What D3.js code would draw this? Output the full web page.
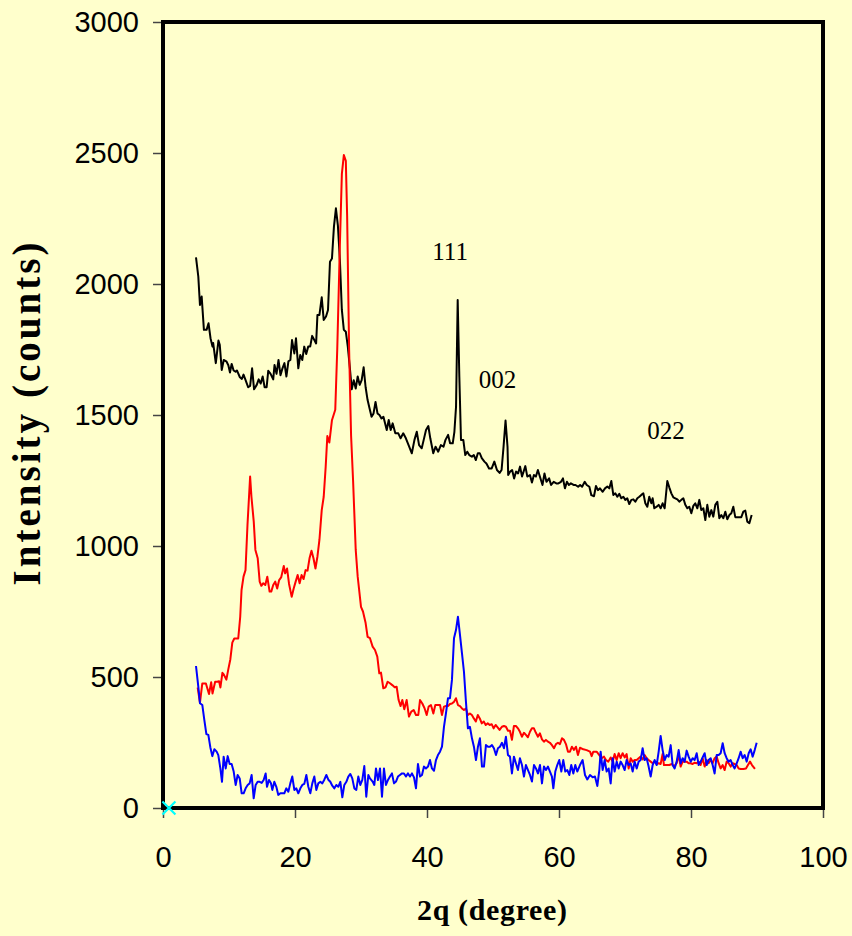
<!DOCTYPE html>
<html><head><meta charset="utf-8">
<script src="https://cdn.jsdelivr.net/npm/d3@7"></script>
<style>html,body{margin:0;padding:0;background:#FFFFCC;} svg{display:block}</style>
</head><body><svg id="c" width="852" height="936"></svg>
<script>
const xTicks = [0, 20, 40, 60, 80, 100];
const yTicks = [0, 500, 1000, 1500, 2000, 2500, 3000];
const xTitle = "2q (degree)";
const yTitle = "Intensity (counts)";

const seriesBlack = [[5.0,2102],[5.35,2028],[5.6,1920],[5.86,1952],[6.2,1825],[6.6,1825],[6.9,1850],[7.2,1793],[7.5,1761],[7.6,1775],[8.0,1698],[8.4,1784],[8.6,1768],[8.9,1672],[9.2,1710],[9.6,1705],[9.9,1690],[10.15,1662],[10.4,1695],[10.7,1670],[11.0,1665],[11.2,1670],[11.65,1644],[11.95,1638],[12.2,1654],[12.5,1634],[12.9,1606],[13.2,1611],[13.5,1678],[13.8,1598],[14.2,1615],[14.5,1636],[14.8,1620],[15.1,1647],[15.4,1606],[15.7,1606],[15.95,1669],[16.3,1657],[16.7,1636],[16.9,1691],[17.2,1657],[17.5,1710],[17.8,1652],[18.1,1678],[18.4,1698],[18.7,1647],[19.0,1705],[19.3,1710],[19.55,1786],[19.9,1735],[20.15,1793],[20.5,1678],[20.8,1729],[21.1,1710],[21.4,1761],[21.7,1733],[22.0,1761],[22.3,1761],[22.6,1802],[23.2,1773],[23.4,1882],[23.7,1882],[24.05,1949],[24.35,1863],[24.7,1876],[25.0,1901],[25.3,2085],[25.6,2097],[25.9,2219],[26.2,2289],[26.5,2223],[26.8,2092],[27.1,1901],[27.4,1825],[27.7,1818],[28.0,1761],[28.3,1684],[28.6,1598],[28.9,1633],[29.2,1601],[29.5,1647],[29.8,1615],[30.1,1633],[30.4,1682],[30.7,1606],[31.0,1557],[31.3,1525],[31.6,1493],[31.9,1506],[32.2,1550],[32.5,1506],[32.8,1500],[33.1,1487],[33.4,1493],[33.9,1443],[34.2,1481],[34.5,1443],[34.8,1468],[35.2,1430],[35.65,1430],[36.0,1411],[36.4,1430],[36.8,1411],[37.3,1379],[37.7,1354],[38.1,1405],[38.45,1436],[38.8,1385],[39.2,1373],[39.5,1405],[39.85,1443],[40.2,1458],[40.5,1411],[40.95,1354],[41.3,1379],[41.7,1360],[42.1,1385],[42.5,1379],[42.8,1405],[43.2,1424],[43.5,1392],[43.9,1392],[44.15,1436],[44.4,1532],[44.65,1939],[44.9,1646],[45.15,1405],[45.5,1405],[45.8,1347],[46.1,1360],[46.4,1347],[46.8,1341],[47.1,1347],[47.4,1328],[47.7,1354],[48.0,1354],[48.3,1335],[48.7,1322],[49.0,1315],[49.4,1296],[49.8,1296],[50.2,1322],[50.6,1290],[51.0,1279],[51.3,1290],[51.6,1379],[51.9,1479],[52.2,1379],[52.3,1271],[52.6,1284],[52.9,1290],[53.2,1258],[53.5,1284],[53.8,1277],[54.1,1303],[54.4,1265],[54.9,1305],[55.2,1265],[55.6,1271],[55.9,1242],[56.2,1271],[56.5,1265],[56.8,1290],[57.1,1265],[57.5,1233],[57.8,1277],[58.1,1245],[58.5,1258],[58.8,1233],[59.2,1245],[59.6,1239],[59.9,1239],[60.3,1245],[60.6,1258],[60.9,1220],[61.2,1245],[61.5,1233],[61.8,1239],[62.2,1233],[62.5,1233],[62.9,1226],[63.2,1233],[63.5,1226],[63.9,1245],[64.2,1233],[64.6,1226],[64.9,1194],[65.3,1190],[65.6,1229],[65.9,1213],[66.21,1220],[66.62,1207],[66.97,1220],[67.32,1227],[67.62,1220],[67.93,1248],[68.23,1195],[68.53,1201],[68.84,1188],[69.14,1199],[69.44,1182],[69.75,1188],[70.05,1176],[70.35,1182],[70.65,1160],[70.96,1176],[71.26,1178],[71.56,1169],[71.87,1182],[72.17,1188],[72.47,1195],[72.78,1201],[73.08,1163],[73.38,1150],[73.68,1188],[73.99,1163],[74.19,1182],[74.44,1144],[74.8,1150],[75.1,1157],[75.4,1144],[75.7,1163],[76.01,1144],[76.41,1248],[76.71,1224],[77.02,1201],[77.32,1186],[77.62,1182],[77.93,1178],[78.23,1169],[78.53,1176],[78.84,1182],[79.14,1157],[79.44,1144],[79.74,1150],[80.05,1125],[80.35,1153],[80.65,1163],[80.96,1144],[81.26,1176],[81.56,1137],[81.87,1144],[82.17,1099],[82.47,1157],[82.77,1112],[83.08,1137],[83.38,1112],[83.68,1157],[83.99,1169],[84.29,1106],[84.59,1118],[84.9,1106],[85.2,1131],[85.5,1102],[85.81,1118],[86.11,1125],[86.41,1150],[86.71,1110],[87.02,1110],[87.32,1110],[87.62,1110],[87.93,1131],[88.23,1135],[88.53,1093],[88.84,1087],[89.19,1118]];

const seriesRed = [[5.25,460],[5.6,402],[5.95,475],[6.2,475],[6.5,475],[6.97,435],[7.3,480],[7.5,437],[7.9,482],[8.2,482],[8.5,484],[8.7,460],[9.0,516],[9.2,510],[9.6,490],[9.9,530],[10.2,567],[10.5,631],[10.8,647],[11.1,647],[11.4,647],[11.7,730],[11.9,832],[12.2,883],[12.5,908],[12.8,1080],[13.2,1265],[13.4,1188],[13.75,1093],[14.0,985],[14.35,953],[14.65,864],[14.9,848],[15.2,858],[15.5,851],[15.8,883],[16.15,826],[16.4,826],[16.7,851],[17.0,864],[17.3,838],[17.6,870],[17.9,880],[18.3,924],[18.5,896],[18.8,914],[19.1,855],[19.5,806],[19.8,838],[20.1,864],[20.4,889],[20.7,858],[21.0,889],[21.3,874],[21.6,908],[21.9,906],[22.2,953],[22.5,982],[22.8,953],[23.1,914],[23.4,960],[23.7,1023],[24.05,1137],[24.35,1188],[24.65,1303],[24.9,1420],[25.2,1395],[25.6,1480],[26.1,1520],[26.4,1750],[26.8,2150],[27.1,2420],[27.4,2492],[27.7,2470],[27.9,2260],[28.2,1750],[28.5,1420],[28.8,1250],[29.2,985],[29.5,883],[30.0,768],[30.3,750],[30.7,706],[31.0,653],[31.36,648],[31.76,616],[32.12,603],[32.47,578],[32.77,514],[33.03,517],[33.38,457],[33.73,461],[34.04,482],[34.39,476],[34.74,469],[35.1,461],[35.4,463],[35.7,412],[36.0,389],[36.26,412],[36.56,377],[36.92,412],[37.27,349],[37.62,368],[37.98,374],[38.33,355],[38.68,355],[38.94,412],[39.29,399],[39.64,380],[39.95,355],[40.25,387],[40.6,393],[40.96,361],[41.26,393],[41.61,393],[41.97,393],[42.27,355],[42.57,387],[42.87,389],[43.18,389],[43.48,397],[43.78,399],[44.09,405],[44.39,419],[44.69,393],[45.0,389],[45.3,380],[45.6,374],[45.9,380],[46.2,355],[46.5,361],[46.8,355],[47.1,342],[47.4,330],[47.7,355],[48.0,342],[48.3,323],[48.6,330],[48.9,317],[49.2,323],[49.5,317],[49.8,320],[50.1,304],[50.4,317],[50.7,308],[51.0,298],[51.35,310],[51.66,313],[51.96,310],[52.27,295],[52.57,295],[52.87,260],[53.17,313],[53.47,313],[53.78,304],[54.08,291],[54.38,272],[54.69,287],[54.99,279],[55.29,270],[55.6,291],[55.9,304],[56.2,304],[56.5,287],[56.81,272],[57.11,285],[57.42,262],[57.72,253],[58.02,260],[58.33,253],[58.63,249],[58.93,240],[59.24,228],[59.54,244],[59.84,249],[60.14,244],[60.45,266],[60.75,260],[61.05,244],[61.36,215],[61.66,215],[61.96,234],[62.27,222],[62.57,234],[62.87,202],[63.18,230],[63.69,224],[64.19,221],[64.7,215],[64.95,198],[65.2,215],[65.7,215],[66.11,202],[66.46,190],[66.82,196],[67.12,183],[67.47,177],[67.83,193],[68.13,177],[68.43,206],[68.74,183],[69.04,209],[69.34,190],[69.64,209],[69.95,193],[70.25,206],[70.55,151],[70.86,190],[71.16,177],[71.46,183],[71.77,183],[72.07,190],[72.37,196],[72.67,185],[72.98,202],[73.28,190],[73.58,183],[73.89,177],[74.19,171],[74.49,177],[74.8,168],[75.1,171],[75.4,168],[75.7,206],[75.9,164],[76.31,164],[76.71,164],[77.12,168],[77.42,158],[77.82,171],[78.13,202],[78.43,158],[78.73,177],[79.04,177],[79.34,177],[79.64,171],[79.95,171],[80.25,168],[80.55,173],[80.86,171],[81.16,177],[81.46,164],[81.76,190],[82.07,158],[82.37,183],[82.67,171],[82.98,183],[83.28,171],[83.58,190],[83.89,196],[84.19,171],[84.49,151],[84.8,164],[85.1,145],[85.4,177],[85.7,171],[86.01,158],[86.31,171],[86.61,168],[86.92,164],[87.22,151],[87.52,149],[87.93,149],[88.33,151],[88.63,164],[88.94,177],[89.24,164],[89.69,149]];

const seriesBlue = [[5.0,542],[5.35,463],[5.6,400],[5.96,393],[6.26,336],[6.57,282],[6.87,279],[7.17,232],[7.47,198],[7.78,224],[8.13,215],[8.38,202],[8.69,151],[8.94,100],[9.19,196],[9.5,151],[9.8,198],[10.1,168],[10.4,168],[10.71,139],[11.01,88],[11.31,126],[11.62,113],[11.92,56],[12.22,56],[12.52,75],[12.83,88],[13.13,94],[13.43,126],[13.74,37],[14.04,88],[14.34,100],[14.65,100],[14.95,96],[15.25,107],[15.55,132],[15.76,81],[16.06,107],[16.36,94],[16.56,69],[16.87,100],[17.17,81],[17.47,50],[17.78,56],[18.08,56],[18.38,56],[18.68,75],[18.99,62],[19.29,94],[19.59,120],[19.9,69],[20.2,75],[20.5,56],[20.81,75],[21.11,88],[21.41,92],[21.72,126],[22.02,81],[22.32,56],[22.62,94],[22.93,120],[23.23,69],[23.53,94],[23.84,100],[24.14,94],[24.44,108],[24.75,126],[25.05,108],[25.35,100],[25.65,85],[25.96,75],[26.26,88],[26.56,81],[26.87,100],[27.17,41],[27.47,88],[27.78,100],[28.08,120],[28.38,130],[28.68,113],[28.99,75],[29.29,69],[29.59,120],[29.9,88],[30.2,107],[30.5,160],[30.8,43],[31.11,126],[31.36,113],[31.76,101],[32.02,88],[32.27,151],[32.57,107],[32.88,151],[33.18,43],[33.48,151],[33.78,88],[34.09,107],[34.39,120],[34.69,132],[35.0,94],[35.3,101],[35.6,120],[35.9,126],[36.21,132],[36.51,132],[36.81,120],[37.12,132],[37.42,120],[37.72,132],[38.03,117],[38.33,75],[38.63,168],[38.94,120],[39.24,126],[39.54,158],[39.84,151],[40.15,158],[40.45,183],[40.75,151],[41.06,142],[41.36,183],[41.66,202],[41.97,215],[42.27,234],[42.57,310],[42.87,361],[43.18,419],[43.48,419],[43.78,489],[44.09,648],[44.39,679],[44.69,730],[45.0,660],[45.3,590],[45.6,520],[45.9,406],[46.2,304],[46.5,310],[46.81,266],[47.11,234],[47.42,183],[47.72,234],[48.02,266],[48.33,158],[48.63,158],[48.93,240],[49.24,234],[49.54,234],[49.84,240],[50.14,228],[50.45,202],[50.75,228],[51.05,234],[51.36,249],[51.66,228],[51.96,272],[52.27,202],[52.57,196],[52.87,132],[53.17,196],[53.48,170],[53.78,145],[54.08,190],[54.39,164],[54.69,120],[54.99,164],[55.3,145],[55.6,126],[55.9,101],[56.21,164],[56.51,151],[56.81,132],[57.12,164],[57.42,94],[57.72,158],[58.03,145],[58.33,158],[58.63,139],[58.93,120],[59.14,75],[59.44,139],[59.74,164],[60.04,183],[60.35,139],[60.65,183],[60.95,139],[61.26,145],[61.56,126],[61.86,164],[62.17,132],[62.47,164],[62.77,139],[63.18,164],[63.58,183],[63.94,126],[64.29,109],[64.7,126],[65.1,117],[65.45,120],[65.81,84],[66.11,145],[66.31,215],[66.61,145],[66.92,183],[67.22,139],[67.52,151],[67.83,94],[68.13,190],[68.43,139],[68.74,177],[69.04,151],[69.34,177],[69.64,164],[69.95,145],[70.25,183],[70.55,164],[70.86,170],[71.16,139],[71.46,177],[71.77,151],[72.07,177],[72.37,183],[72.67,228],[72.98,183],[73.28,190],[73.58,158],[73.89,120],[74.19,164],[74.49,183],[74.8,164],[75.1,215],[75.4,275],[75.7,221],[76.01,183],[76.31,202],[76.61,196],[76.92,240],[77.22,164],[77.52,151],[77.83,177],[78.13,221],[78.43,170],[78.74,190],[79.04,177],[79.34,219],[79.64,196],[79.95,177],[80.25,190],[80.55,183],[80.86,209],[81.16,164],[81.46,177],[81.76,193],[82.07,209],[82.37,164],[82.67,183],[82.98,190],[83.28,164],[83.58,132],[83.89,202],[84.19,202],[84.49,209],[84.8,247],[85.1,209],[85.4,190],[85.7,177],[86.01,183],[86.31,164],[86.61,151],[86.92,170],[87.22,190],[87.52,215],[87.83,190],[88.13,202],[88.44,177],[88.74,209],[89.04,224],[89.34,196],[89.65,221],[89.95,249]];

const peakLabels = [
  { text: "111", x: 43.5, y: 2092 },
  { text: "002", x: 50.7, y: 1603 },
  { text: "022", x: 76.2, y: 1408 }
];
const originMarker = [0.9, 0];

const svg = d3.select("#c");
const x = d3.scaleLinear().domain([0, 100]).range([163, 823]);
const y = d3.scaleLinear().domain([0, 3000]).range([808, 22]);

svg.append("rect").attr("width", 852).attr("height", 936).attr("fill", "#FFFFCC");

const sans = "'Liberation Sans', Arial, sans-serif";
const serif = "'Liberation Serif', 'Times New Roman', serif";

// axes
const gx = svg.append("g").attr("transform", "translate(0,808)")
  .call(d3.axisBottom(x).tickValues(xTicks).tickSize(10).tickPadding(28).tickFormat(d3.format("d")));
gx.select(".domain").remove();
gx.selectAll(".tick line").attr("stroke", "#444").attr("stroke-width", 1.5);
gx.selectAll(".tick text").attr("font-family", sans).attr("font-size", 29).attr("fill", "#000");

const gy = svg.append("g").attr("transform", "translate(163,0)")
  .call(d3.axisLeft(y).tickValues(yTicks).tickSize(10).tickPadding(14).tickFormat(d3.format("d")));
gy.select(".domain").remove();
gy.selectAll(".tick line").attr("stroke", "#444").attr("stroke-width", 1.5);
gy.selectAll(".tick text").attr("font-family", sans).attr("font-size", 29).attr("fill", "#000");

// series
const line = d3.line().x(d => x(d[0])).y(d => y(d[1]));
const series = [
  { data: seriesBlack, color: "#000000" },
  { data: seriesRed, color: "#FF0000" },
  { data: seriesBlue, color: "#0000FF" }
];
svg.append("g").selectAll("path").data(series).join("path")
  .attr("d", d => line(d.data))
  .attr("fill", "none")
  .attr("stroke", d => d.color)
  .attr("stroke-width", 2)
  .attr("stroke-linejoin", "round");

// frame
svg.append("rect")
  .attr("x", x(0)).attr("y", y(3000))
  .attr("width", x(100) - x(0)).attr("height", y(0) - y(3000))
  .attr("fill", "none").attr("stroke", "#000").attr("stroke-width", 4);

// origin marker
const mx = x(originMarker[0]), my = y(originMarker[1]), ms = 6.5;
svg.append("path")
  .attr("d", `M${mx - ms},${my - ms}L${mx + ms},${my + ms}M${mx - ms},${my + ms}L${mx + ms},${my - ms}`)
  .attr("stroke", "#00FFFF").attr("stroke-width", 2.2).attr("fill", "none");

// peak labels
svg.append("g").selectAll("text").data(peakLabels).join("text")
  .attr("x", d => x(d.x)).attr("y", d => y(d.y))
  .attr("text-anchor", "middle")
  .attr("font-family", serif).attr("font-size", 25).attr("fill", "#000")
  .text(d => d.text);

// axis titles
svg.append("text")
  .attr("x", 492).attr("y", 920)
  .attr("text-anchor", "middle")
  .attr("font-family", serif).attr("font-weight", "bold").attr("font-size", 30)
  .attr("textLength", 150).attr("lengthAdjust", "spacing")
  .text(xTitle);

svg.append("text")
  .attr("transform", "translate(40,414) rotate(-90)")
  .attr("text-anchor", "middle")
  .attr("font-family", serif).attr("font-weight", "bold").attr("font-size", 39)
  .attr("textLength", 343).attr("lengthAdjust", "spacing")
  .text(yTitle);
</script>
</body></html>
